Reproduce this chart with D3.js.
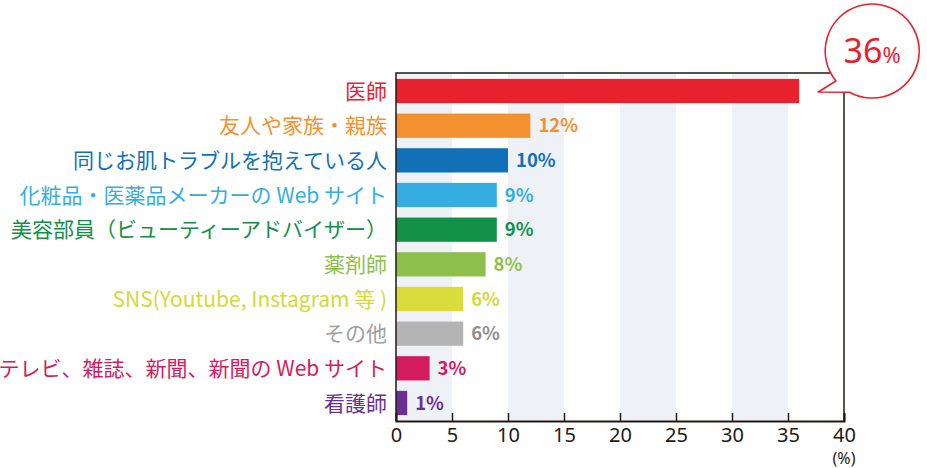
<!DOCTYPE html>
<html>
<head>
<meta charset="utf-8">
<script src="https://cdn.jsdelivr.net/npm/d3@7"></script>
<style>
  body { margin: 0; background: #fff; }
  svg { display: block; font-family: "Noto Sans CJK JP", "Noto Sans", sans-serif; }
</style>
</head>
<body>
<svg id="chart"></svg>
<script>
// categories and values (percent)
const categories = [
  "医師",
  "友人や家族・親族",
  "同じお肌トラブルを抱えている人",
  "化粧品・医薬品メーカーの Web サイト",
  "美容部員（ビューティーアドバイザー）",
  "薬剤師",
  "SNS(Youtube, Instagram 等 )",
  "その他",
  "テレビ、雑誌、新聞、新聞の Web サイト",
  "看護師"
];
const values = [36, 12, 10, 9, 9, 8, 6, 6, 3, 1];
const barColors = ["#e8212e", "#f39130", "#1170b8", "#35ade0", "#139047",
                   "#8dc04b", "#d9dc3a", "#b4b4b4", "#d41c5c", "#6a3091"];
const labelColors = ["#e8212e", "#f39130", "#1170b8", "#35ade0", "#139047",
                     "#8dc04b", "#d4d83a", "#a0a0a0", "#d41c5c", "#6a3091"];
const valueColors = ["#e8212e", "#f39130", "#1170b8", "#35ade0", "#139047",
                     "#8dc04b", "#d4d83a", "#8e8e8e", "#d41c5c", "#6a3091"];
const xTicks = [0, 5, 10, 15, 20, 25, 30, 35, 40];

const width = 927, height = 468;
const margin = {top: 73, right: 83, bottom: 47, left: 396};

const svg = d3.select("#chart")
  .attr("width", width)
  .attr("height", height);

const x = d3.scaleLinear()
  .domain([0, 40])
  .range([margin.left, width - margin.right]);

const y = d3.scaleBand()
  .domain(categories)
  .range([margin.top, height - margin.bottom])
  .paddingInner(0.3)
  .paddingOuter(0.17);

// alternating background bands
svg.append("g")
  .selectAll("rect")
  .data(xTicks.filter((d, i) => i % 2 === 0 && d < 40))
  .enter()
  .append("rect")
  .attr("x", (d) => x(d))
  .attr("width", (d) => x(d + 5) - x(d))
  .attr("y", margin.top)
  .attr("height", height - margin.bottom - margin.top)
  .attr("fill", "#eef2f6");

// bars
svg.append("g")
  .selectAll("rect")
  .data(values)
  .enter()
  .append("rect")
  .attr("x", x(0))
  .attr("y", (d, i) => y(categories[i]))
  .attr("width", (d) => x(d) - x(0))
  .attr("height", y.bandwidth())
  .attr("fill", (d, i) => barColors[i]);

// category labels
svg.append("g")
  .selectAll("text")
  .data(categories)
  .enter()
  .append("text")
  .attr("x", x(0) - 9)
  .attr("y", (d) => y(d) + y.bandwidth() / 2)
  .attr("dy", "0.36em")
  .attr("text-anchor", "end")
  .attr("font-size", 21)
  .attr("fill", (d, i) => labelColors[i])
  .text((d) => d);

// value labels (first one goes in the callout)
svg.append("g")
  .selectAll("text")
  .data(values.slice(1))
  .enter()
  .append("text")
  .attr("x", (d) => x(d) + 8)
  .attr("y", (d, i) => y(categories[i + 1]) + y.bandwidth() / 2)
  .attr("dy", "0.36em")
  .attr("font-size", 18.5)
  .attr("font-weight", 700)
  .attr("fill", (d, i) => valueColors[i + 1])
  .text((d) => d + "%");

// frame (left, top, right)
svg.append("path")
  .attr("d", `M${x(0)},${height - margin.bottom}V${margin.top}H${x(40)}V${height - margin.bottom}`)
  .attr("fill", "none")
  .attr("stroke", "#231815")
  .attr("stroke-width", 1.5);

// x axis with inward ticks
const xAxis = svg.append("g")
  .attr("transform", `translate(0, ${height - margin.bottom})`)
  .call(d3.axisBottom(x).tickValues(xTicks).tickSize(-8).tickPadding(7));
xAxis.select(".domain").attr("stroke", "#231815").attr("stroke-width", 2);
xAxis.selectAll(".tick line").attr("stroke", "#231815").attr("stroke-width", 1.5);
xAxis.selectAll(".tick text")
  .attr("font-size", 20)
  .attr("font-family", "'Noto Sans', sans-serif")
  .attr("fill", "#231815");

svg.append("text")
  .attr("x", x(40))
  .attr("y", height - 4)
  .attr("text-anchor", "middle")
  .attr("font-size", 16)
  .attr("font-family", "'Noto Sans', sans-serif")
  .attr("fill", "#231815")
  .text("(%)");

// speech-bubble callout for the top bar
const tipX = x(values[0]) + 19, tipY = y(categories[0]) + y.bandwidth() / 2 + 1;
const cx = tipX + 54, cy = tipY - 41, r = 47;
const a1 = Math.PI * 0.78, a2 = Math.PI * 0.66;
const bubble = `M${tipX},${tipY}` +
  `L${cx + r * Math.cos(a1)},${cy + r * Math.sin(a1)}` +
  `A${r},${r} 0 1 1 ${cx + r * Math.cos(a2)},${cy + r * Math.sin(a2)}Z`;
svg.append("path")
  .attr("d", bubble)
  .attr("fill", "#fff")
  .attr("stroke", "#e8212e")
  .attr("stroke-width", 1.6)
  .attr("stroke-linejoin", "round");

const callout = svg.append("text")
  .attr("x", cx)
  .attr("y", cy + 12)
  .attr("text-anchor", "middle")
  .attr("fill", "#e8212e")
  .attr("font-family", "'Noto Sans', sans-serif");
callout.append("tspan").attr("font-size", 34).text(values[0]);
callout.append("tspan").attr("font-size", 22).text("%");
</script>
</body>
</html>
